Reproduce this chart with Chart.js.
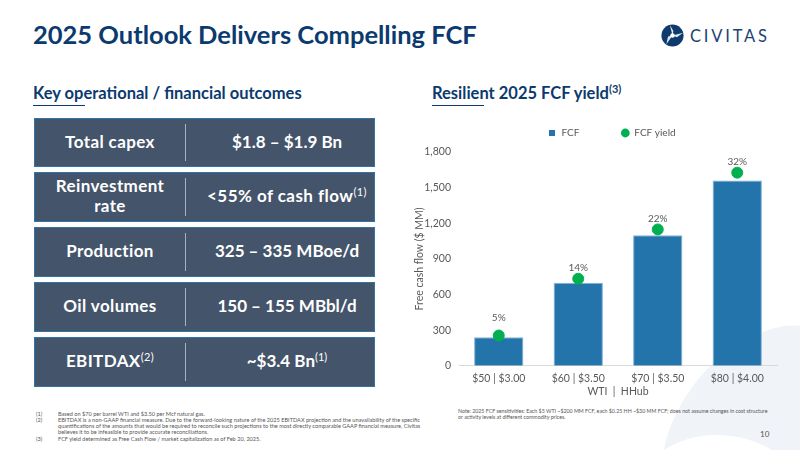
<!DOCTYPE html>
<html>
<head>
<meta charset="utf-8">
<title>2025 Outlook Delivers Compelling FCF</title>
<script src="https://cdn.jsdelivr.net/npm/chart.js@4"></script>
<style>
  html, body { margin: 0; padding: 0; }
  body { width: 800px; height: 450px; position: relative; overflow: hidden; background: #fff; font-family: Lato, sans-serif; }
  .abs { position: absolute; white-space: nowrap; }
  #backdrop { position: absolute; left: 0; top: 0; }
  #title { left: 33px; top: 19px; font-size: 25.5px; font-weight: 700; color: #0b3a6f; }
  .heading { top: 83px; font-size: 16.5px; font-weight: 700; color: #0b3a6f; }
  .heading sup { font-size: 11px; line-height: 0; }
  .rule { position: absolute; top: 104.5px; width: 52px; height: 1.5px; background: #0b3a6f; }
  .row { position: absolute; left: 34px; width: 341px; background: #44546a; border: 1px solid #2e75a6; box-sizing: border-box; color: #fff; font-weight: 700; font-size: 17px; }
  .row .left, .row .right { position: absolute; top: 0; bottom: 2px; display: flex; align-items: center; justify-content: center; text-align: center; line-height: 20px; }
  .row .left { left: 0; width: 150px; letter-spacing: 0.4px; }
  .row .right { left: 150px; width: 190px; padding-left: 14px; box-sizing: border-box; }
  .row .divider { position: absolute; left: 149.5px; top: 5px; bottom: 5px; width: 1px; background: #a9b3c0; }
  .row sup { font-size: 11px; line-height: 0; font-weight: 400; vertical-align: 6px; }
  #chartBox { position: absolute; left: 413px; top: 121px; width: 380px; height: 277px; }
  .note { font-size: 5.6px; line-height: 6.1px; color: #555; }
  #sideNote { font-size: 5.27px; line-height: 6.1px; }
  #page { left: 760px; top: 429px; font-size: 8px; color: #555; }
  #brand { left: 690px; top: 26px; font-size: 16.5px; letter-spacing: 2.8px; color: #1d4373; }
</style>
</head>
<body>
<svg id="backdrop" width="800" height="450">
  <path d="M664 450 C672 405 712 345 775 328 C785 325 795 325 800 326 L800 450 Z" fill="#f0f3f7"/>
  <path d="M664 450 C690 432 735 428 772 450 Z" fill="#fff"/>
</svg>

<div id="title" class="abs">2025 Outlook Delivers Compelling FCF</div>

<svg class="abs" style="left:661px;top:24px" width="23" height="23" viewBox="0 0 26 26">
  <circle cx="13" cy="13" r="12.5" fill="#0f3a6e"/>
  <path d="M13 13 L10 1 L14 8 Z M13 13 L25 10 L18 15 Z M13 13 L6 23 L8 14 Z" fill="#dfe6ee"/>
  <circle cx="13" cy="13" r="2.6" fill="#fff"/>
</svg>
<div id="brand" class="abs">CIVITAS</div>

<div class="abs heading" style="left:33px">Key operational / financial outcomes</div>
<div class="rule" style="left:33px"></div>
<div class="abs heading" style="left:432px">Resilient 2025 FCF yield<sup>(3)</sup></div>
<div class="rule" style="left:432px"></div>

<div class="row" style="top:118px;height:49px"><div class="left"><span>Total capex</span></div><div class="divider"></div><div class="right"><span>$1.8 – $1.9 Bn</span></div></div>
<div class="row" style="top:172px;height:50px"><div class="left"><span>Reinvestment<br>rate</span></div><div class="divider"></div><div class="right"><span style="letter-spacing:0.45px">&lt;55% of cash flow<sup>(1)</sup></span></div></div>
<div class="row" style="top:227px;height:50px"><div class="left"><span>Production</span></div><div class="divider"></div><div class="right"><span>325 – 335 MBoe/d</span></div></div>
<div class="row" style="top:282px;height:50px"><div class="left"><span>Oil volumes</span></div><div class="divider"></div><div class="right"><span>150 – 155 MBbl/d</span></div></div>
<div class="row" style="top:337px;height:50px"><div class="left"><span>EBITDAX<sup>(2)</sup></span></div><div class="divider"></div><div class="right"><span>~$3.4 Bn<sup>(1)</sup></span></div></div>

<div id="chartBox"><canvas id="fcfChart"></canvas></div>

<div class="abs note" style="left:36px;top:411px">(1)</div>
<div class="abs note" style="left:58px;top:411px">Based on $70 per barrel WTI and $3.50 per Mcf natural gas.</div>
<div class="abs note" style="left:36px;top:417px">(2)</div>
<div class="abs note" style="left:58px;top:417px">EBITDAX is a non-GAAP financial measure. Due to the forward-looking nature of the 2025 EBITDAX projection and the unavailability of the specific<br>quantifications of the amounts that would be required to reconcile such projections to the most directly comparable GAAP financial measure, Civitas<br>believes it to be infeasible to provide accurate reconciliations.</div>
<div class="abs note" style="left:36px;top:435.5px">(3)</div>
<div class="abs note" style="left:58px;top:435.5px">FCF yield determined as Free Cash Flow / market capitalization as of Feb 20, 2025.</div>

<div id="sideNote" class="abs note" style="left:458px;top:408px">Note: 2025 FCF sensitivities: Each $5 WTI ~$200 MM FCF, each $0.25 HH ~$30 MM FCF; does not assume changes in cost structure<br>or activity levels at different commodity prices.</div>
<div id="page" class="abs">10</div>

<script>
const categories = ["$50 | $3.00", "$60 | $3.50", "$70 | $3.50", "$80 | $4.00"];
const fcfValues = [240, 700, 1100, 1560];
const yieldMarkers = [255, 733, 1148, 1626];
const yieldLabels = ["5%", "14%", "22%", "32%"];
const yTicks = [0, 300, 600, 900, 1200, 1500, 1800];

const textColor = "#595959";
const chartFont = "Lato, sans-serif";

// Small square for the FCF legend entry, the bars' legend mark is smaller than the circle
function legendSquare() {
  const c = document.createElement("canvas");
  c.width = 6;
  c.height = 6;
  const g = c.getContext("2d");
  g.fillStyle = "#2474ac";
  g.fillRect(0, 0, 6, 6);
  return c;
}

// Percent labels sit above the yield markers
const yieldLabelPlugin = {
  id: "yieldLabels",
  afterLayout(chart) {
    // legend is centred on the plot, not the whole canvas
    chart.legend.left += 17;
    chart.legend.right += 17;
    chart.legend.top -= 4;
  },
  afterDatasetsDraw(chart) {
    const ctx = chart.ctx;
    const points = chart.getDatasetMeta(0).data;
    ctx.save();
    ctx.fillStyle = textColor;
    ctx.font = "10px " + chartFont;
    ctx.textAlign = "center";
    ctx.textBaseline = "middle";
    points.forEach((pt, i) => {
      const lift = i === 0 ? 18 : 11;
      ctx.fillText(yieldLabels[i], pt.x, pt.y - lift);
    });
    ctx.restore();
  },
};

new Chart(document.getElementById("fcfChart"), {
  data: {
    labels: categories,
    datasets: [
      {
        type: "line",
        label: "FCF yield",
        data: yieldMarkers,
        showLine: false,
        pointStyle: "circle",
        pointRadius: 5.5,
        pointBackgroundColor: "#00b050",
        pointBorderColor: "#00b050",
        backgroundColor: "#00b050",
        borderColor: "#00b050",
        order: 0,
      },
      {
        type: "bar",
        label: "FCF",
        data: fcfValues,
        backgroundColor: "#2474ac",
        borderColor: "#7fb2d6",
        borderWidth: 1,
        categoryPercentage: 0.62,
        barPercentage: 1,
        order: 1,
      },
    ],
  },
  options: {
    responsive: true,
    maintainAspectRatio: false,
    animation: false,
    // legend padding is what spaces its two items, negative top takes back the height it adds
    layout: { padding: { top: -31, right: 16, bottom: 0, left: 0 } },
    plugins: {
      tooltip: { enabled: false },
      legend: {
        position: "top",
        labels: {
          usePointStyle: true,
          color: textColor,
          font: { family: chartFont, size: 10 },
          boxHeight: 6.2,
          boxWidth: 8,
          padding: 42,
          generateLabels() {
            return [
              { text: "FCF", pointStyle: legendSquare(), fillStyle: "#2474ac", strokeStyle: "#2474ac", lineWidth: 0, fontColor: textColor, datasetIndex: 1 },
              { text: "FCF yield", pointStyle: "circle", fillStyle: "#00b050", strokeStyle: "#00b050", lineWidth: 0, fontColor: textColor, datasetIndex: 0 },
            ];
          },
        },
      },
    },
    scales: {
      x: {
        grid: { display: false },
        border: { color: "#d9d9d9" },
        ticks: { color: textColor, font: { family: chartFont, size: 10.5 }, padding: -1 },
        title: { display: true, text: "WTI  |  HHub", color: textColor, font: { family: chartFont, size: 10.5 }, padding: { top: 1, bottom: 0 } },
      },
      y: {
        min: 0,
        max: 1800,
        grid: { display: false },
        border: { display: false },
        afterBuildTicks(axis) {
          axis.ticks = yTicks.map((v) => ({ value: v }));
        },
        afterFit(axis) {
          axis.width = 46;
        },
        ticks: { color: textColor, font: { family: chartFont, size: 10.5 }, padding: 0 },
        title: { display: true, text: "Free cash flow ($ MM)", color: textColor, font: { family: chartFont, size: 10.5 }, padding: { top: 0, bottom: 0 } },
      },
    },
  },
  plugins: [yieldLabelPlugin],
});
</script>
</body>
</html>
